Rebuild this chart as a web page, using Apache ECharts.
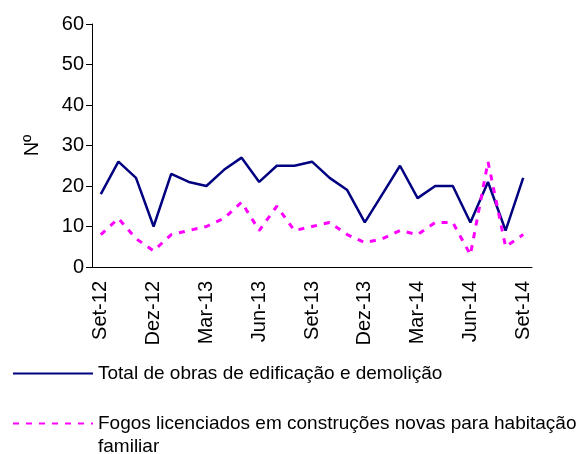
<!DOCTYPE html>
<html>
<head>
<meta charset="utf-8">
<script src="https://cdn.jsdelivr.net/npm/echarts@6/dist/echarts.min.js"></script>
<style>
  html, body { margin: 0; padding: 0; background: #fff; }
  #chart { width: 586px; height: 454px; }
</style>
</head>
<body>
<div id="chart"></div>
<script>
var months = ['Set-12', 'Out-12', 'Nov-12', 'Dez-12', 'Jan-13', 'Fev-13', 'Mar-13', 'Abr-13', 'Mai-13',
  'Jun-13', 'Jul-13', 'Ago-13', 'Set-13', 'Out-13', 'Nov-13', 'Dez-13', 'Jan-14', 'Fev-14', 'Mar-14',
  'Abr-14', 'Mai-14', 'Jun-14', 'Jul-14', 'Ago-14', 'Set-14'];
var totalObras = [18, 26, 22, 10, 23, 21, 20, 24, 27, 21, 25, 25, 26, 22, 19, 11, 18, 25, 17, 20, 20, 11, 21, 9, 22];
var fogos = [8, 12, 7, 4, 8, 9, 10, 12, 16, 9, 15, 9, 10, 11, 8, 6, 7, 9, 8, 11, 11, 3, 26, 5, 8];
var yTicks = [0, 10, 20, 30, 40, 50, 60];

var nameTotal = 'Total de obras de edificação e demolição';
var nameFogos = 'Fogos licenciados em construções novas para habitação familiar';

var font = 'Liberation Sans, Arial, sans-serif';
var myChart = echarts.init(document.querySelector('#chart'));
var option = {
  animation: false,
  backgroundColor: '#fff',
  textStyle: { fontFamily: font },
  grid: { left: 92, right: 54, top: 24, bottom: 187 },
  legend: [
    {
      left: 7,
      top: 359,
      itemWidth: 80,
      itemHeight: 14,
      data: [nameTotal],
      itemStyle: { opacity: 0 },
      textStyle: { fontFamily: font, fontSize: 19, color: '#000' }
    },
    {
      left: 7,
      top: 384,
      itemWidth: 80,
      itemHeight: 14,
      data: [nameFogos],
      itemStyle: { opacity: 0 },
      formatter: function () {
        return '\nFogos licenciados em construções novas para habitação\nfamiliar';
      },
      textStyle: { fontFamily: font, fontSize: 19, lineHeight: 23, color: '#000' }
    }
  ],
  xAxis: {
    type: 'category',
    data: months,
    boundaryGap: true,
    axisLine: { lineStyle: { color: '#000', width: 1 } },
    axisTick: { interval: 2, length: 6, lineStyle: { color: '#808080' } },
    axisLabel: {
      interval: 2,
      rotate: 90,
      margin: 14,
      fontSize: 20,
      color: '#000',
      fontFamily: font
    },
    splitLine: { show: false }
  },
  yAxis: {
    type: 'value',
    min: yTicks[0],
    max: yTicks[yTicks.length - 1],
    interval: 10,
    name: 'Nº',
    nameLocation: 'middle',
    nameGap: 50,
    nameRotate: 90,
    nameTextStyle: { fontSize: 20, color: '#000', fontFamily: font },
    axisLine: { show: true, lineStyle: { color: '#000', width: 1 } },
    axisTick: { show: true, length: 6, lineStyle: { color: '#000' } },
    axisLabel: { fontSize: 20, color: '#000', margin: 8, fontFamily: font },
    splitLine: { show: false }
  },
  series: [
    {
      name: nameTotal,
      type: 'line',
      data: totalObras,
      symbol: 'none',
      lineStyle: { color: '#000080', width: 2.5 },
      itemStyle: { color: '#000080' }
    },
    {
      name: nameFogos,
      type: 'line',
      data: fogos,
      symbol: 'none',
      lineStyle: { color: '#ff00ff', width: 3, type: [6, 7] },
      itemStyle: { color: '#ff00ff' }
    }
  ]
};

myChart.setOption(option);
</script>
</body>
</html>
